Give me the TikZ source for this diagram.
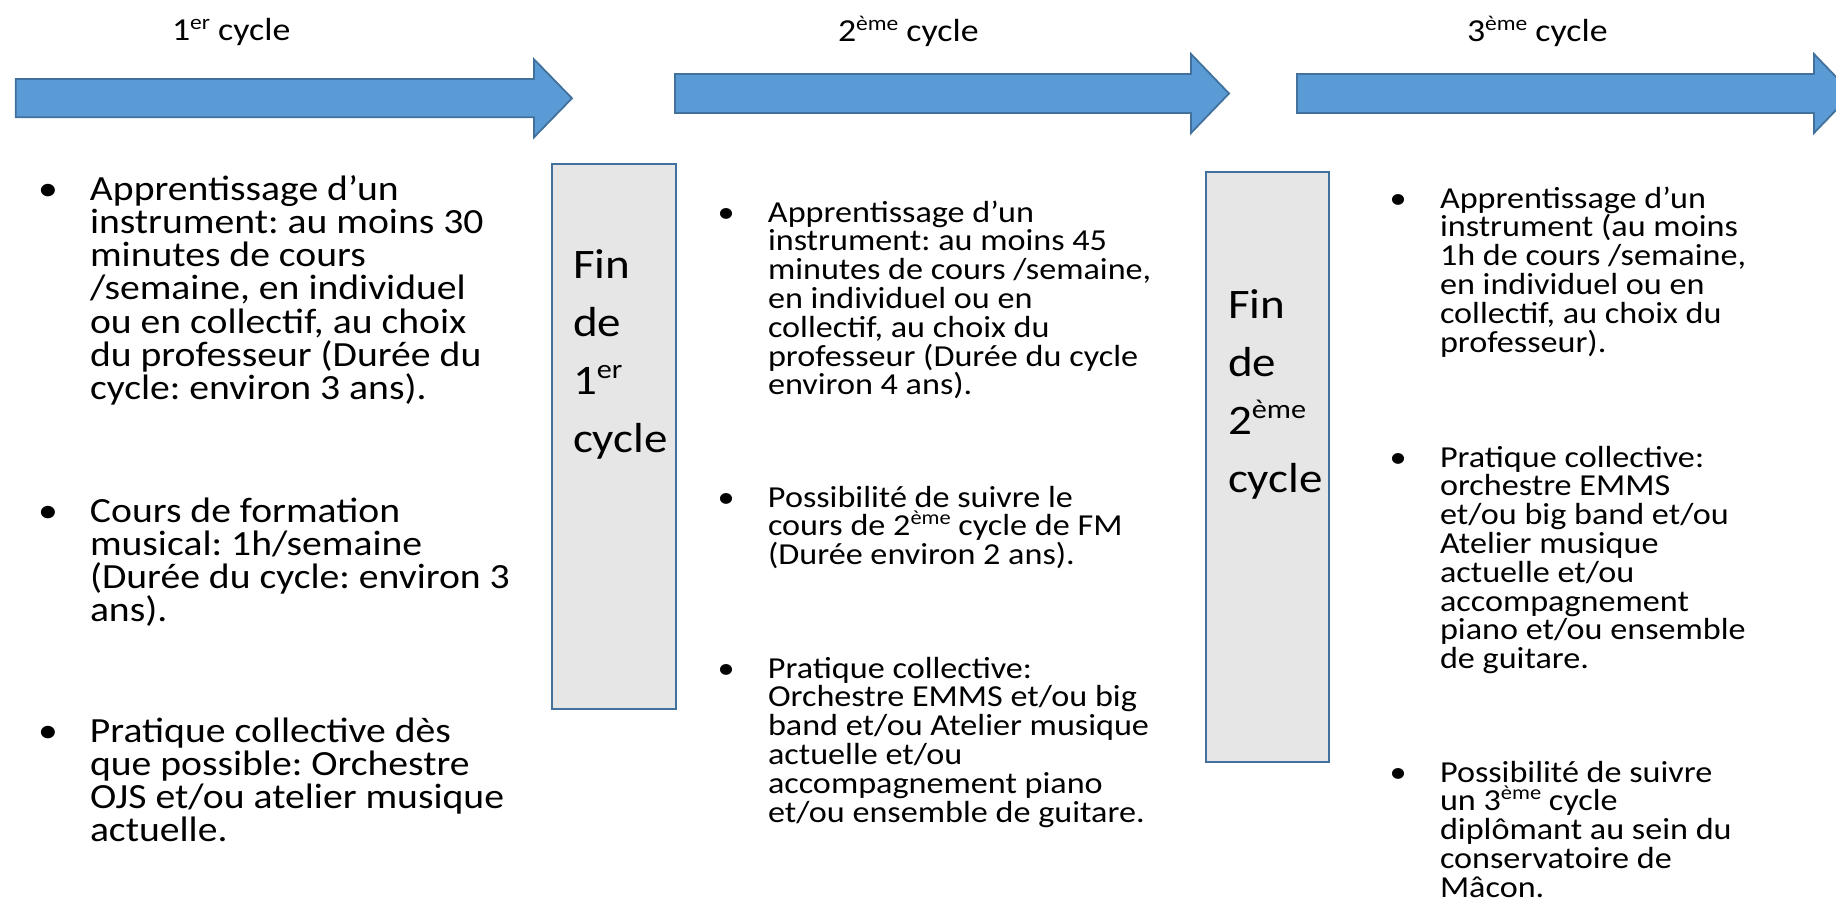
\documentclass[tikz,border=0pt]{standalone}
\usepackage{fontspec}
\setmainfont{Carlito}[FakeStretch=1.12]
\frenchspacing
\definecolor{arrowfill}{HTML}{5B9BD5}
\definecolor{arrowline}{HTML}{41719C}
\definecolor{boxfill}{HTML}{E7E6E6}
\newcommand\supx[2]{\raisebox{0.36em}{\fontsize{#1}{#1}\selectfont #2}}
\newcommand\bul{\leavevmode\llap{\makebox[0pt][c]{•}\hskip 42pt}}
\newcommand\colA[1]{\parbox[t]{560pt}{\frenchspacing\fontsize{35.4}{33.3}\selectfont\lineskiplimit=-100pt\lineskip=0pt\raggedright #1}}
\newcommand\colB[1]{\parbox[t]{560pt}{\frenchspacing\fontsize{30.5}{28.8}\selectfont\lineskiplimit=-100pt\lineskip=0pt\raggedright #1}}
\newcommand\finT[1]{\parbox[t]{110pt}{\fontsize{42}{58}\selectfont\lineskiplimit=-100pt\lineskip=0pt\raggedright #1}}
\tikzset{
  timearrow/.style={fill=arrowfill, draw=arrowline, line width=1.8pt, line join=miter},
  finbox/.style={fill=boxfill, draw=arrowline, line width=2pt, inner sep=0pt},
  txt/.style={anchor=base west, inner sep=0pt, outer sep=0pt, text=black},
  ttl/.style={txt, font=\fontsize{32}{38}\selectfont},
}
\begin{document}
\begin{tikzpicture}[x=1pt,y=-1pt]
\useasboundingbox (0,0) rectangle (1836,899);
\clip (0,0) rectangle (1836,899);

% arrows
\draw[timearrow] (15.8,79) -- (534,79) -- (534,59.3) -- (572,98.3) -- (534,137.3) -- (534,117.3) -- (15.8,117.3) -- cycle;
\draw[timearrow] (675,74) -- (1191,74) -- (1191,54) -- (1229,93.5) -- (1191,133) -- (1191,113) -- (675,113) -- cycle;
\draw[timearrow] (1297,74) -- (1814,74) -- (1814,54) -- (1852,93.5) -- (1814,133) -- (1814,113) -- (1297,113) -- cycle;

% titles
\node[ttl] (t1) at (172,41) {1\supx{21}{er} cycle};
\node[ttl] (t2) at (838,42) {2\supx{21}{ème} cycle};
\node[ttl] (t3) at (1467,42) {3\supx{21}{ème} cycle};

% end-of-cycle boxes
\node[finbox, minimum width=124pt, minimum height=545pt] (b1) at (614,436.5) {};
\node[finbox, minimum width=123pt, minimum height=590pt] (b2) at (1267.5,467) {};
\node[txt] (f1) at (573,278) {\finT{Fin\\de\\1\supx{27}{er}\\cycle}};
\node[txt] (f2) at (1228,318) {\finT{Fin\\de\\2\supx{27}{ème}\\cycle}};

% column 1
\node[txt] (a1) at (90,200) {\colA{\bul Apprentissage d’un\\instrument: au moins 30\\minutes de cours\\/semaine, en individuel\\ou en collectif, au choix\\du professeur (Durée du\\cycle: environ 3 ans).}};
\node[txt] (a2) at (90,522) {\colA{\bul Cours de formation\\musical: 1h/semaine\\(Durée du cycle: environ 3\\ans).}};
\node[txt] (a3) at (90,742) {\colA{\bul Pratique collective dès\\que possible: Orchestre\\OJS et/ou atelier musique\\actuelle.}};

% column 2
\node[txt] (c1) at (768,222) {\colB{\bul Apprentissage d’un\\instrument: au moins 45\\minutes de cours /semaine,\\en individuel ou en\\collectif, au choix du\\professeur (Durée du cycle\\environ 4 ans).}};
\node[txt] (c2) at (768,507) {\colB{\bul Possibilité de suivre le\\cours de 2\supx{20}{ème} cycle de FM\\(Durée environ 2 ans).}};
\node[txt] (c3) at (768,678) {\colB{\bul Pratique collective:\\Orchestre EMMS et/ou big\\band et/ou Atelier musique\\actuelle et/ou\\accompagnement piano\\et/ou ensemble de guitare.}};

% column 3
\node[txt] (d1) at (1440,208) {\colB{\bul Apprentissage d’un\\instrument (au moins\\1h de cours /semaine,\\en individuel ou en\\collectif, au choix du\\professeur).}};
\node[txt] (d2) at (1440,467) {\colB{\bul Pratique collective:\\orchestre EMMS\\et/ou big band et/ou\\Atelier musique\\actuelle et/ou\\accompagnement\\piano et/ou ensemble\\de guitare.}};
\node[txt] (d3) at (1440,782) {\colB{\bul Possibilité de suivre\\un 3\supx{20}{ème} cycle\\diplômant au sein du\\conservatoire de\\Mâcon.}};
\end{tikzpicture}
\end{document}
